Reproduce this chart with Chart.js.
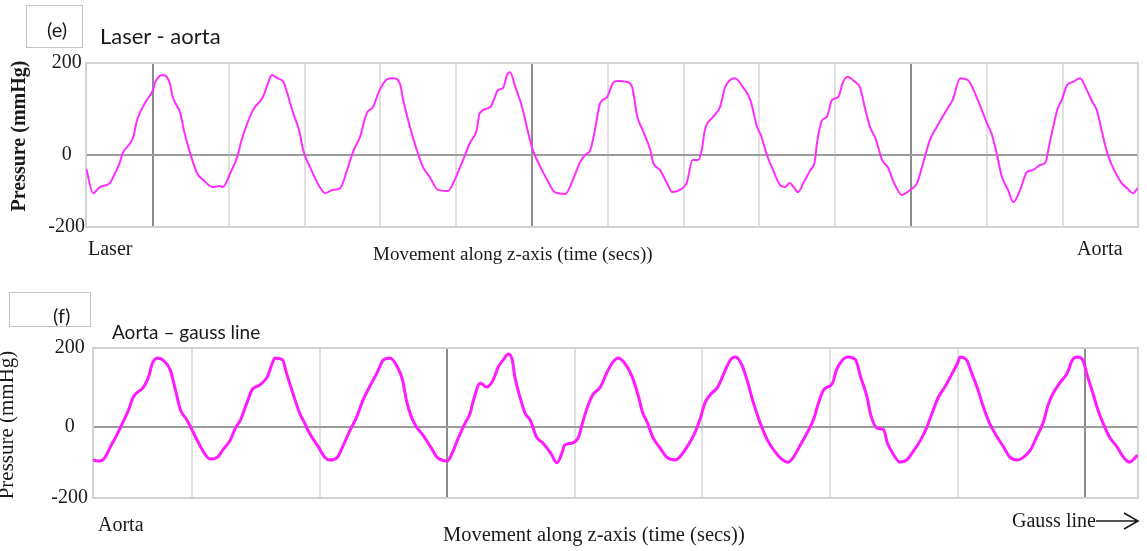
<!DOCTYPE html>
<html>
<head>
<meta charset="utf-8">
<script src="https://cdn.jsdelivr.net/npm/chart.js@4.4.1/dist/chart.umd.min.js"></script>
<style>
  html, body { margin: 0; padding: 0; background: #fff; }
  body { width: 1147px; height: 551px; position: relative; overflow: hidden; }
  canvas { position: absolute; left: 0; }
  #chartE { top: 0; }
  #chartF { top: 270px; }
  .t { position: absolute; white-space: nowrap; line-height: 1; color: #1a1a1a; }
  .serif { font-family: "Liberation Serif", "Times New Roman", serif; }
  .sans { font-family: Lato, "Open Sans", sans-serif; }
  .box { position: absolute; box-sizing: border-box; border: 1px solid #c4c4c4; background: #fff; }
  .ytitle { position: absolute; white-space: nowrap; line-height: 1; color: #1a1a1a;
            font-family: "Liberation Serif", "Times New Roman", serif;
            transform: translate(-50%, -50%) rotate(-90deg); }
</style>
</head>
<body>
<canvas id="chartE" width="1147" height="270"></canvas>
<canvas id="chartF" width="1147" height="281"></canvas>

<!-- panel (e) labels -->
<div class="box" style="left:26px;top:5px;width:57px;height:43px"></div>
<div class="t sans" style="left:47px;top:19px;font-size:20px">(e)</div>
<div class="t sans" style="left:100px;top:25px;font-size:22px">Laser - aorta</div>
<div class="ytitle" style="left:18px;top:136px;font-size:20px;font-weight:bold">Pressure (mmHg)</div>
<div class="t serif" style="left:88px;top:238px;font-size:20px">Laser</div>
<div class="t serif" style="left:373px;top:244px;font-size:19px">Movement along z-axis (time (secs))</div>
<div class="t serif" style="left:1077px;top:238px;font-size:20px">Aorta</div>

<!-- panel (f) labels -->
<div class="box" style="left:9px;top:292px;width:82px;height:35px"></div>
<div class="t sans" style="left:53px;top:305px;font-size:20px">(f)</div>
<div class="t sans" style="left:112px;top:322px;font-size:19px">Aorta – gauss line</div>
<div class="ytitle" style="left:6px;top:425px;font-size:21px">Pressure (mmHg)</div>
<div class="t serif" style="left:98px;top:514px;font-size:20px">Aorta</div>
<div class="t serif" style="left:443px;top:524px;font-size:20.5px">Movement along z-axis (time (secs))</div>
<div class="t serif" style="left:1012px;top:510px;font-size:20px">Gauss line</div>
<svg style="position:absolute;left:1095px;top:509px" width="46" height="24">
  <path d="M1 12 H42 M29 4 L43 12 L29 20" fill="none" stroke="#1a1a1a" stroke-width="1.6"/>
</svg>

<script>
// Panel (e): laser -> aorta pressure trace (time in grid units, pressure in mmHg)
const eTime = [
  -0.88, -0.79, -0.70, -0.57, -0.50, -0.44, -0.40, -0.30, -0.26, -0.21,
  -0.08, 0.00, 0.03, 0.09, 0.13, 0.22, 0.26, 0.36, 0.41, 0.49,
  0.58, 0.66, 0.79, 0.88, 0.92, 1.02, 1.11, 1.17, 1.32, 1.45,
  1.50, 1.57, 1.64, 1.72, 1.77, 1.85, 1.93, 1.98, 2.07, 2.20,
  2.27, 2.37, 2.47, 2.56, 2.64, 2.73, 2.82, 2.90, 2.99, 3.09,
  3.17, 3.26, 3.30, 3.39, 3.48, 3.56, 3.65, 3.76, 3.89, 3.98,
  4.09, 4.18, 4.27, 4.31, 4.45, 4.51, 4.55, 4.62, 4.67, 4.71,
  4.78, 4.84, 4.88, 4.95, 5.01, 5.11, 5.20, 5.30, 5.44, 5.54,
  5.63, 5.70, 5.77, 5.83, 5.90, 5.99, 6.07, 6.13, 6.25, 6.32,
  6.39, 6.46, 6.56, 6.60, 6.69, 6.78, 6.85, 6.95, 7.04, 7.12,
  7.19, 7.24, 7.28, 7.39, 7.48, 7.55, 7.68, 7.78, 7.88, 7.97,
  8.02, 8.10, 8.18, 8.27, 8.34, 8.40, 8.44, 8.51, 8.58, 8.67,
  8.73, 8.76, 8.83, 8.89, 8.96, 9.04, 9.10, 9.16, 9.26, 9.33,
  9.39, 9.46, 9.53, 9.62, 9.70, 9.76, 9.88, 9.99, 10.08, 10.16,
  10.25, 10.34, 10.47, 10.55, 10.65, 10.75, 10.88, 11.00, 11.07, 11.13,
  11.20, 11.28, 11.35, 11.44, 11.53, 11.61, 11.70, 11.77, 11.83, 11.93,
  11.99, 12.06, 12.14, 12.23, 12.32, 12.40, 12.45, 12.53, 12.59, 12.66,
  12.78, 12.85, 12.93, 12.99
];
const ePressure = [
  -39, -106, -89, -78, -50, -22, 4, 26, 39, 76,
  120, 141, 159, 172, 174, 157, 126, 91, 52, 4,
  -50, -69, -89, -86, -89, -50, -6, 33, 98, 126,
  148, 174, 167, 159, 135, 91, 52, 11, -33, -89,
  -106, -97, -92, -42, 7, 39, 91, 104, 141, 165,
  167, 154, 120, 61, 11, -33, -61, -97, -100, -69,
  -14, 26, 54, 91, 104, 126, 141, 146, 174, 180,
  148, 120, 98, 48, 11, -33, -69, -103, -108, -69,
  -22, 0, 11, 54, 113, 126, 157, 161, 159, 148,
  83, 54, 11, -22, -42, -78, -103, -97, -78, -14,
  -14, 11, 54, 83, 104, 148, 167, 148, 120, 61,
  43, 0, -42, -83, -89, -78, -86, -103, -78, -42,
  -19, 26, 76, 83, 120, 126, 157, 170, 159, 146,
  104, 61, 37, -14, -36, -69, -111, -97, -78, -22,
  33, 61, 98, 120, 167, 163, 120, 70, 43, 4,
  -61, -97, -131, -97, -47, -42, -28, -22, 26, 98,
  120, 152, 159, 167, 141, 113, 98, 43, 4, -33,
  -78, -92, -106, -92
];

// Panel (f): aorta -> gauss line pressure trace
const fTime = [
  -2.78, -2.72, -2.68, -2.64, -2.59, -2.54, -2.50, -2.46, -2.38, -2.34,
  -2.31, -2.27, -2.23, -2.17, -2.13, -2.09, -2.04, -2.00, -1.96, -1.91,
  -1.86, -1.80, -1.76, -1.70, -1.66, -1.62, -1.57, -1.53, -1.47, -1.41,
  -1.37, -1.35, -1.29, -1.26, -1.21, -1.15, -1.13, -1.08, -1.01, -0.96,
  -0.92, -0.86, -0.82, -0.76, -0.71, -0.66, -0.61, -0.55, -0.50, -0.45,
  -0.39, -0.35, -0.32, -0.28, -0.24, -0.19, -0.13, -0.08, 0.00, 0.04,
  0.08, 0.14, 0.18, 0.20, 0.26, 0.31, 0.36, 0.40, 0.44, 0.48,
  0.51, 0.53, 0.57, 0.61, 0.65, 0.70, 0.75, 0.81, 0.86, 0.90,
  0.92, 0.98, 1.03, 1.06, 1.10, 1.14, 1.20, 1.25, 1.30, 1.34,
  1.39, 1.45, 1.50, 1.53, 1.57, 1.61, 1.68, 1.72, 1.79, 1.82,
  1.88, 1.94, 1.98, 2.02, 2.06, 2.12, 2.18, 2.22, 2.26, 2.31,
  2.35, 2.40, 2.45, 2.51, 2.57, 2.63, 2.67, 2.71, 2.76, 2.82,
  2.87, 2.91, 2.95, 3.02, 3.05, 3.10, 3.14, 3.20, 3.24, 3.29,
  3.32, 3.37, 3.42, 3.45, 3.49, 3.55, 3.60, 3.65, 3.71, 3.76,
  3.80, 3.85, 3.90, 3.96, 4.00, 4.02, 4.07, 4.11, 4.16, 4.21,
  4.25, 4.31, 4.36, 4.41, 4.47, 4.51, 4.57, 4.62, 4.67, 4.71,
  4.75, 4.80, 4.86, 4.90, 4.94, 4.98, 5.02, 5.06, 5.10, 5.14,
  5.19, 5.25, 5.30, 5.35, 5.39, 5.41
];
const fPressure = [
  -93, -96, -85, -56, -23, 13, 41, 76, 101, 127,
  162, 175, 170, 144, 94, 43, 18, -8, -37, -70,
  -90, -85, -65, -37, -3, 18, 61, 94, 106, 127,
  162, 175, 170, 137, 86, 30, 18, -17, -56, -85,
  -93, -85, -56, -8, 25, 68, 101, 137, 170, 175,
  152, 119, 68, 25, 0, -23, -56, -85, -96, -73,
  -37, 10, 35, 61, 111, 101, 119, 152, 170, 185,
  170, 127, 76, 35, 18, -28, -45, -73, -101, -73,
  -51, -45, -28, 10, 51, 81, 101, 137, 165, 175,
  162, 127, 76, 38, 10, -28, -65, -85, -93, -85,
  -56, -17, 18, 61, 81, 101, 144, 170, 177, 157,
  119, 61, 13, -37, -70, -93, -99, -87, -56, -17,
  18, 61, 94, 111, 144, 170, 177, 170, 127, 76,
  30, -3, -8, -45, -73, -99, -93, -70, -37, 0,
  35, 76, 101, 137, 162, 177, 170, 137, 94, 43,
  10, -28, -56, -85, -93, -87, -65, -28, 10, 56,
  86, 111, 137, 170, 177, 170, 127, 86, 43, 10,
  -28, -56, -85, -99, -87, -79
];

// Shared pressure ticks and vertical grid positions (dark line every 5th)
const pressureTicks = [-200, 0, 200];
const eGridTimes = [0, 1, 2, 3, 4, 5, 6, 7, 8, 9, 10, 11, 12];
const fGridTimes = [-2, -1, 0, 1, 2, 3, 4, 5];

// Pressure axis whose zero line sits at a chosen fraction of the height,
// with positive and negative halves each scaled linearly.
class SplitScale extends Chart.LinearScale {
  getPixelForValue(value) {
    const z = this.options.zeroAt ?? 0.5;
    const d = value >= 0 ? z + (1 - z) * value / this.max : z - z * value / this.min;
    return this.getPixelForDecimal(d);
  }
  getValueForPixel(pixel) {
    const z = this.options.zeroAt ?? 0.5;
    const d = this.getDecimalForPixel(pixel);
    return d >= z ? (d - z) / (1 - z) * this.max : (z - d) / z * this.min;
  }
}
SplitScale.id = 'split';
SplitScale.defaults = Chart.LinearScale.defaults;
Chart.register(SplitScale);

function makePanel(canvasId, times, values, grid, cfg) {
  const points = times.map((t, i) => ({ x: t, y: values[i] }));
  return new Chart(document.getElementById(canvasId), {
    type: 'line',
    data: {
      datasets: [{
        data: points,
        borderColor: cfg.lineColor,
        borderWidth: cfg.lineWidth,
        pointRadius: 0,
        cubicInterpolationMode: 'monotone',
        fill: false
      }]
    },
    options: {
      responsive: false,
      animation: false,
      events: [],
      layout: { padding: cfg.padding },
      plugins: { legend: { display: false }, tooltip: { enabled: false } },
      scales: {
        x: {
          type: 'linear',
          min: cfg.xMin,
          max: cfg.xMax,
          afterFit: s => { s.height = 0; },
          afterBuildTicks: s => { s.ticks = grid.map(v => ({ value: v })); },
          ticks: { display: false },
          grid: {
            drawTicks: false,
            lineWidth: 2,
            color: c => (c.tick && c.tick.value % 5 === 0) ? '#8c8c8c' : '#e0e0e0'
          },
          border: { display: false }
        },
        y: {
          type: 'split',
          zeroAt: cfg.zeroAt,
          min: -200,
          max: 200,
          afterFit: s => { s.width = cfg.axisWidth; },
          afterBuildTicks: s => { s.ticks = pressureTicks.map(v => ({ value: v })); },
          ticks: {
            font: { family: 'Liberation Serif', size: 20 },
            color: '#1a1a1a',
            padding: cfg.tickPad,
            crossAlign: 'center'
          },
          grid: {
            drawTicks: false,
            lineWidth: 2,
            color: c => (c.tick && c.tick.value === 0) ? '#9c9c9c' : '#d2d2d2'
          },
          border: { color: '#d2d2d2', width: 2 }
        },
        edge: {
          type: 'linear',
          position: 'right',
          afterFit: s => { s.width = 0; },
          ticks: { display: false },
          grid: { display: false },
          border: { color: '#d2d2d2', width: 2 }
        }
      }
    }
  });
}

makePanel('chartE', eTime, ePressure, eGridTimes, {
  lineColor: '#ff2cff', lineWidth: 2,
  xMin: -0.884, xMax: 12.995,
  zeroAt: 72 / 164,
  axisWidth: 46, tickPad: 1,
  padding: { left: 40, right: 9, top: 63, bottom: 43 }
});

makePanel('chartF', fTime, fPressure, fGridTimes, {
  lineColor: '#ff1aff', lineWidth: 3,
  xMin: -2.776, xMax: 5.414,
  zeroAt: 71 / 150,
  axisWidth: 46, tickPad: 5,
  padding: { left: 47, right: 9, top: 78, bottom: 53 }
});
</script>
</body>
</html>
